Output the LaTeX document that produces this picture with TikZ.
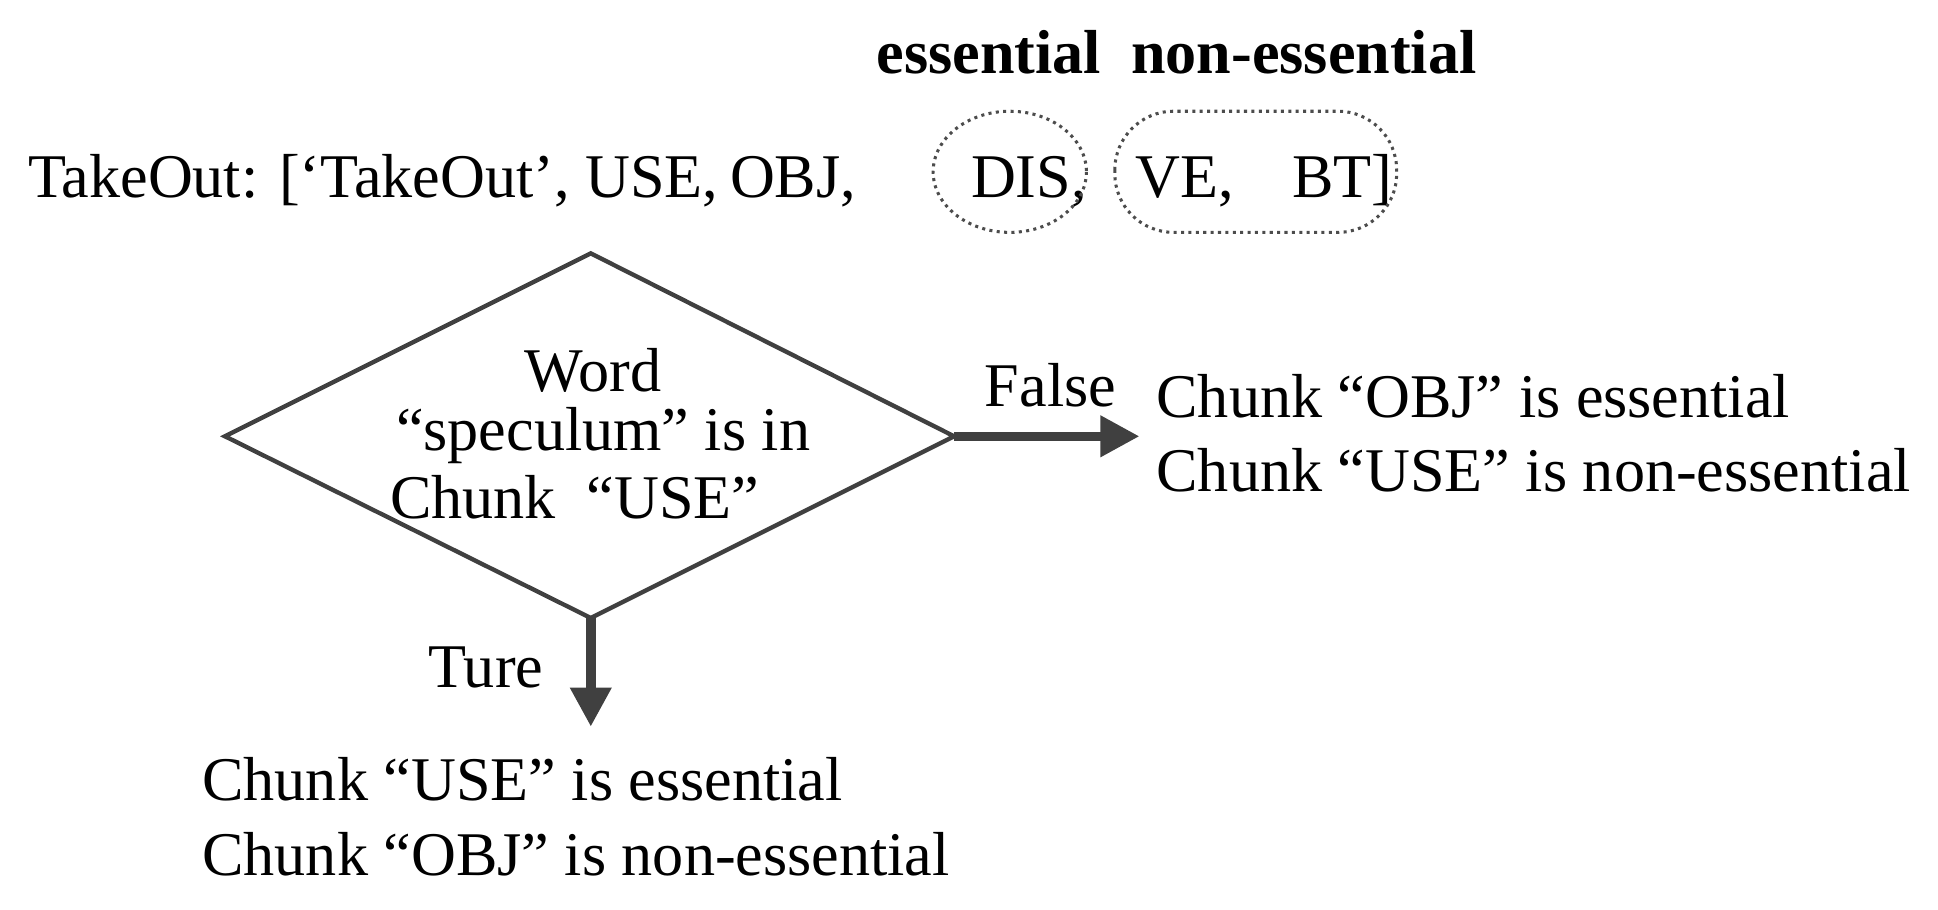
\documentclass[tikz,border=0pt]{standalone}
\usepackage{fontspec}
\setmainfont{Liberation Serif}
\usetikzlibrary{arrows.meta}
\begin{document}
\begin{tikzpicture}[x=0.01cm,y=-0.01cm,
  txt/.style={font=\fontsize{14.3}{17}\selectfont, inner sep=0pt},
  tl/.style={txt, anchor=base west},
  arr/.style={draw=black!75, line width=2.2pt, -{Triangle[length=9pt,width=9pt]}},
  dotb/.style={draw=black!70, densely dotted, line width=0.7pt}]
\useasboundingbox (0,0) rectangle (1568,736);
\node[txt, font=\fontsize{14.3}{17}\selectfont\bfseries] (ess) at (800,42) {essential};
\node[txt, font=\fontsize{14.3}{17}\selectfont\bfseries] (ness) at (1055,42) {non-essential};
\node[tl] (t1) at (22,160) {TakeOut: [‘TakeOut’,};
\node[tl] (t2) at (473,160) {USE,};
\node[tl] (t3) at (590,160) {OBJ,};
\node[tl] (t4) at (785,160) {DIS,};
\node[tl] (t5) at (918,160) {VE,};
\node[tl] (t6) at (1045,160) {BT]};
\draw[dotb] (817,139) ellipse (62 and 49);
\draw[dotb, rounded corners=13.5pt] (902,90) rectangle (1130,188);
\coordinate (L) at (182,353); \coordinate (T) at (478,205);
\coordinate (R) at (772,353); \coordinate (B) at (478,500);
\draw[black!75, line width=1pt] (L) -- (T) -- (R) -- (B) -- cycle;
\node[txt] (c1) at (480,300) {Word};
\node[txt] (c2) at (488,352) {“speculum” is in};
\node[txt] (c3) at (465,402) {Chunk \ “USE”};
\coordinate (fend) at (922,353);
\coordinate (tend) at (478,588);
\draw[arr] (R) -- (fend);
\draw[arr] (B) -- (tend);
\node[txt] (false) at (850,312) {False};
\node[txt] (ture) at (393,540) {Ture};
\node[tl] (f1) at (935,338) {Chunk “OBJ” is essential};
\node[tl] (f2) at (935,398) {Chunk “USE” is non-essential};
\node[tl] (r1) at (163,648) {Chunk “USE” is essential};
\node[tl] (r2) at (163,708) {Chunk “OBJ” is non-essential};
\end{tikzpicture}
\end{document}
